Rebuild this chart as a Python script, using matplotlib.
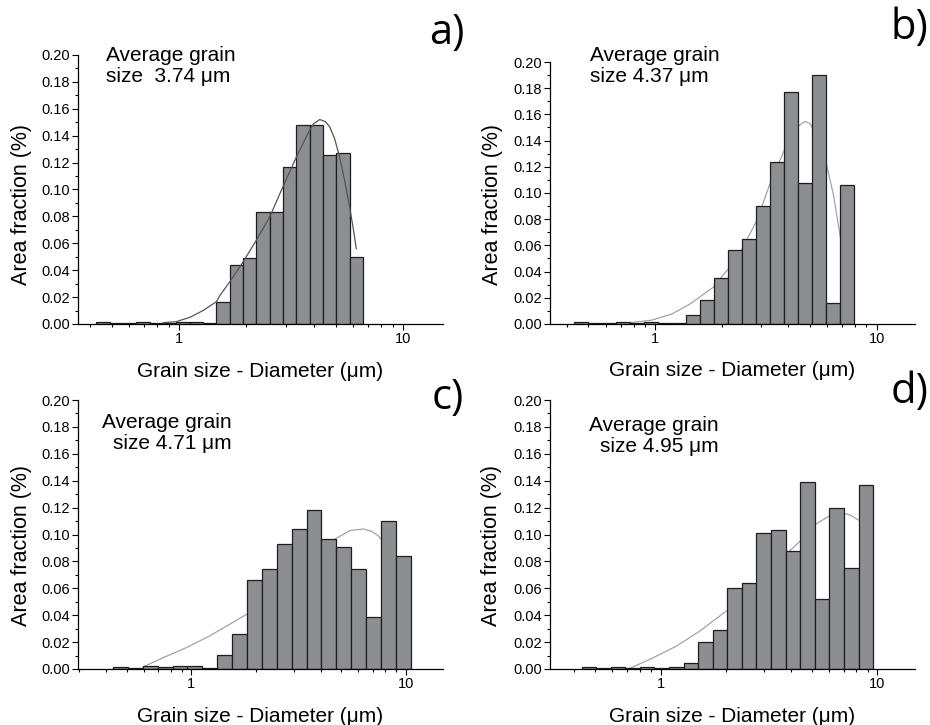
import numpy as np
import matplotlib
matplotlib.use('Agg')
import matplotlib.pyplot as plt
from matplotlib.ticker import MultipleLocator, LogLocator, FixedLocator, NullFormatter

plt.rcParams['font.family'] = ['Liberation Sans', 'DejaVu Sans']

# Histogram values (area fraction) per panel, 20 log-spaced bins each
a_vals = [0.0017, 0.0007, 0.0007, 0.0015, 0.0007, 0.0010, 0.0015, 0.0015, 0.0005, 0.016,
          0.044, 0.049, 0.083, 0.083, 0.117, 0.148, 0.148, 0.126, 0.127, 0.0495]
b_vals = [0.0013, 0.0008, 0.0008, 0.0013, 0.0010, 0.0015, 0.0005, 0.0008, 0.0069, 0.018,
          0.035, 0.0566, 0.0647, 0.090, 0.124, 0.177, 0.108, 0.190, 0.016, 0.106]
c_vals = [0.0012, 0.0007, 0.0022, 0.0012, 0.0025, 0.0025, 0.0005, 0.0102, 0.026, 0.066,
          0.0743, 0.093, 0.104, 0.118, 0.0964, 0.091, 0.074, 0.039, 0.110, 0.084]
d_vals = [0.0012, 0.0007, 0.0012, 0.0007, 0.0012, 0.0005, 0.0012, 0.0042, 0.0204, 0.0288,
          0.060, 0.0639, 0.101, 0.1034, 0.088, 0.139, 0.052, 0.1195, 0.0753, 0.137]

# First and last bin edge (um)
a_range = (0.428, 6.63)
b_range = (0.433, 7.93)
c_range = (0.431, 10.55)
d_range = (0.432, 9.55)

# Fitted curves
a_fit_x = [0.85, 0.97, 1.12, 1.28, 1.47, 1.52, 1.68, 1.93, 2.21, 2.54, 2.91, 3.34, 3.6, 3.83, 4.0,
           4.25, 4.5, 4.71, 4.95, 5.22, 5.5, 5.78, 6.0, 6.19]
a_fit_y = [0.001, 0.0017, 0.005, 0.010, 0.0166, 0.021, 0.031, 0.046, 0.062, 0.0795, 0.102, 0.124,
           0.135, 0.144, 0.149, 0.152, 0.1505, 0.1466, 0.138, 0.124, 0.106, 0.087, 0.071, 0.056]
b_fit_x = [0.76, 0.97, 1.19, 1.44, 1.83, 2.14, 2.46, 2.88, 3.30, 3.86, 4.15, 4.43, 4.75, 5.0,
           5.3, 5.6, 5.95, 6.38, 6.88]
b_fit_y = [0.0008, 0.003, 0.0076, 0.0153, 0.028, 0.042, 0.0568, 0.079, 0.107, 0.134, 0.145,
           0.151, 0.1547, 0.153, 0.146, 0.135, 0.121, 0.099, 0.065]
c_fit_x = [0.595, 0.738, 0.948, 1.218, 1.51, 1.81, 2.12, 2.49, 2.93, 3.44, 4.04, 4.67, 5.48,
           6.32, 6.9, 7.43, 8.2, 9.04]
c_fit_y = [0.0015, 0.0084, 0.0159, 0.0246, 0.0333, 0.0407, 0.0494, 0.0594, 0.0688, 0.0793,
           0.0892, 0.0966, 0.1029, 0.1041, 0.1025, 0.0991, 0.091, 0.078]
d_fit_x = [0.722, 0.925, 1.185, 1.52, 2.01, 2.36, 2.77, 3.25, 3.81, 4.46, 5.23, 6.03, 6.5,
           6.95, 7.5, 8.15]
d_fit_y = [0.0005, 0.0084, 0.0171, 0.0283, 0.0432, 0.0532, 0.0631, 0.0743, 0.0855, 0.0961,
           0.108, 0.114, 0.1155, 0.1158, 0.1145, 0.1108]

letters = ['a)', 'b)', 'c)', 'd)']
notes = ['Average grain\nsize  3.74 \u03bcm', 'Average grain\nsize 4.37 \u03bcm',
         'Average grain\nsize 4.71 \u03bcm', 'Average grain\nsize 4.95 \u03bcm']

fig = plt.figure(figsize=(9.3, 7.25), dpi=100)
W, H = 930.0, 725.0

# axes boxes in pixels: left, top, right, bottom
boxes = [(78, 55, 443, 324), (550, 62, 915, 324), (78, 400, 443, 669), (550, 400, 915, 669)]
xlims = [(0.354, 15.1), (0.336, 14.9), (0.296, 14.9), (0.309, 14.9)]
vals = [a_vals, b_vals, c_vals, d_vals]
ranges = [a_range, b_range, c_range, d_range]
fits = [(a_fit_x, a_fit_y), (b_fit_x, b_fit_y), (c_fit_x, c_fit_y), (d_fit_x, d_fit_y)]
fit_col = ['#555555', '#a3a3a3', '#a3a3a3', '#a3a3a3']
fit_z = [3, 1, 1, 1]
# note text: x, top of first line (px), alignment
note_pos = [(106, 46, 'left'), (590, 46, 'left'), (232, 413, 'right'), (719, 416, 'right')]
# panel letter: right edge x, centre y (px)
letter_pos = [(464, 33), (928, 28), (464, 398), (928, 392)]
ylab_xy = [(-0.125, 0.444), (-0.129, 0.455), (-0.125, 0.459), (-0.132, 0.459)]

for i in range(4):
    l, t, r, b = boxes[i]
    ax = fig.add_axes([l / W, 1 - b / H, (r - l) / W, (b - t) / H])
    edges = np.geomspace(ranges[i][0], ranges[i][1], len(vals[i]) + 1)
    ax.bar(edges[:-1], vals[i], width=np.diff(edges), align='edge',
           color='#8d8e92', edgecolor='#1e1e1e', linewidth=0.9, zorder=2)
    ax.plot(fits[i][0], fits[i][1], color=fit_col[i], lw=0.9, zorder=fit_z[i])
    ax.set_xscale('log')
    ax.set_xlim(*xlims[i])
    ax.set_ylim(0, 0.2)

    ax.spines['top'].set_visible(False)
    ax.spines['right'].set_visible(False)
    ax.spines['left'].set_linewidth(0.9)
    ax.spines['bottom'].set_linewidth(0.9)

    ax.yaxis.set_major_locator(MultipleLocator(0.02))
    ax.yaxis.set_minor_locator(MultipleLocator(0.01))
    ax.yaxis.set_major_formatter(plt.FormatStrFormatter('%.2f'))
    ax.xaxis.set_major_locator(FixedLocator([1, 10]))
    ax.xaxis.set_major_formatter(plt.FuncFormatter(lambda v, p: '%d' % round(v)))
    ax.xaxis.set_minor_locator(LogLocator(base=10, subs=np.arange(2, 10)))
    ax.xaxis.set_minor_formatter(NullFormatter())
    ax.tick_params(which='major', direction='out', length=4, width=0.8, labelsize=10.5, pad=2)
    ax.tick_params(which='minor', direction='out', length=2.2, width=0.8)

    ax.set_ylabel('Area fraction (%)', fontsize=15.5)
    ax.yaxis.set_label_coords(*ylab_xy[i])
    ax.set_xlabel('Grain size - Diameter (\u03bcm)', fontsize=15)
    ax.xaxis.set_label_coords(0.5, -0.14)

    nx, ny, ha = note_pos[i]
    fig.text(nx / W, 1 - ny / H, notes[i], ha=ha, va='top', fontsize=15, linespacing=1.15)
    lx, ly = letter_pos[i]
    fig.text(lx / W, 1 - ly / H, letters[i], ha='right', va='center', fontsize=30,
             family=['Open Sans', 'DejaVu Sans'])

plt.savefig('out.png', dpi=100)
